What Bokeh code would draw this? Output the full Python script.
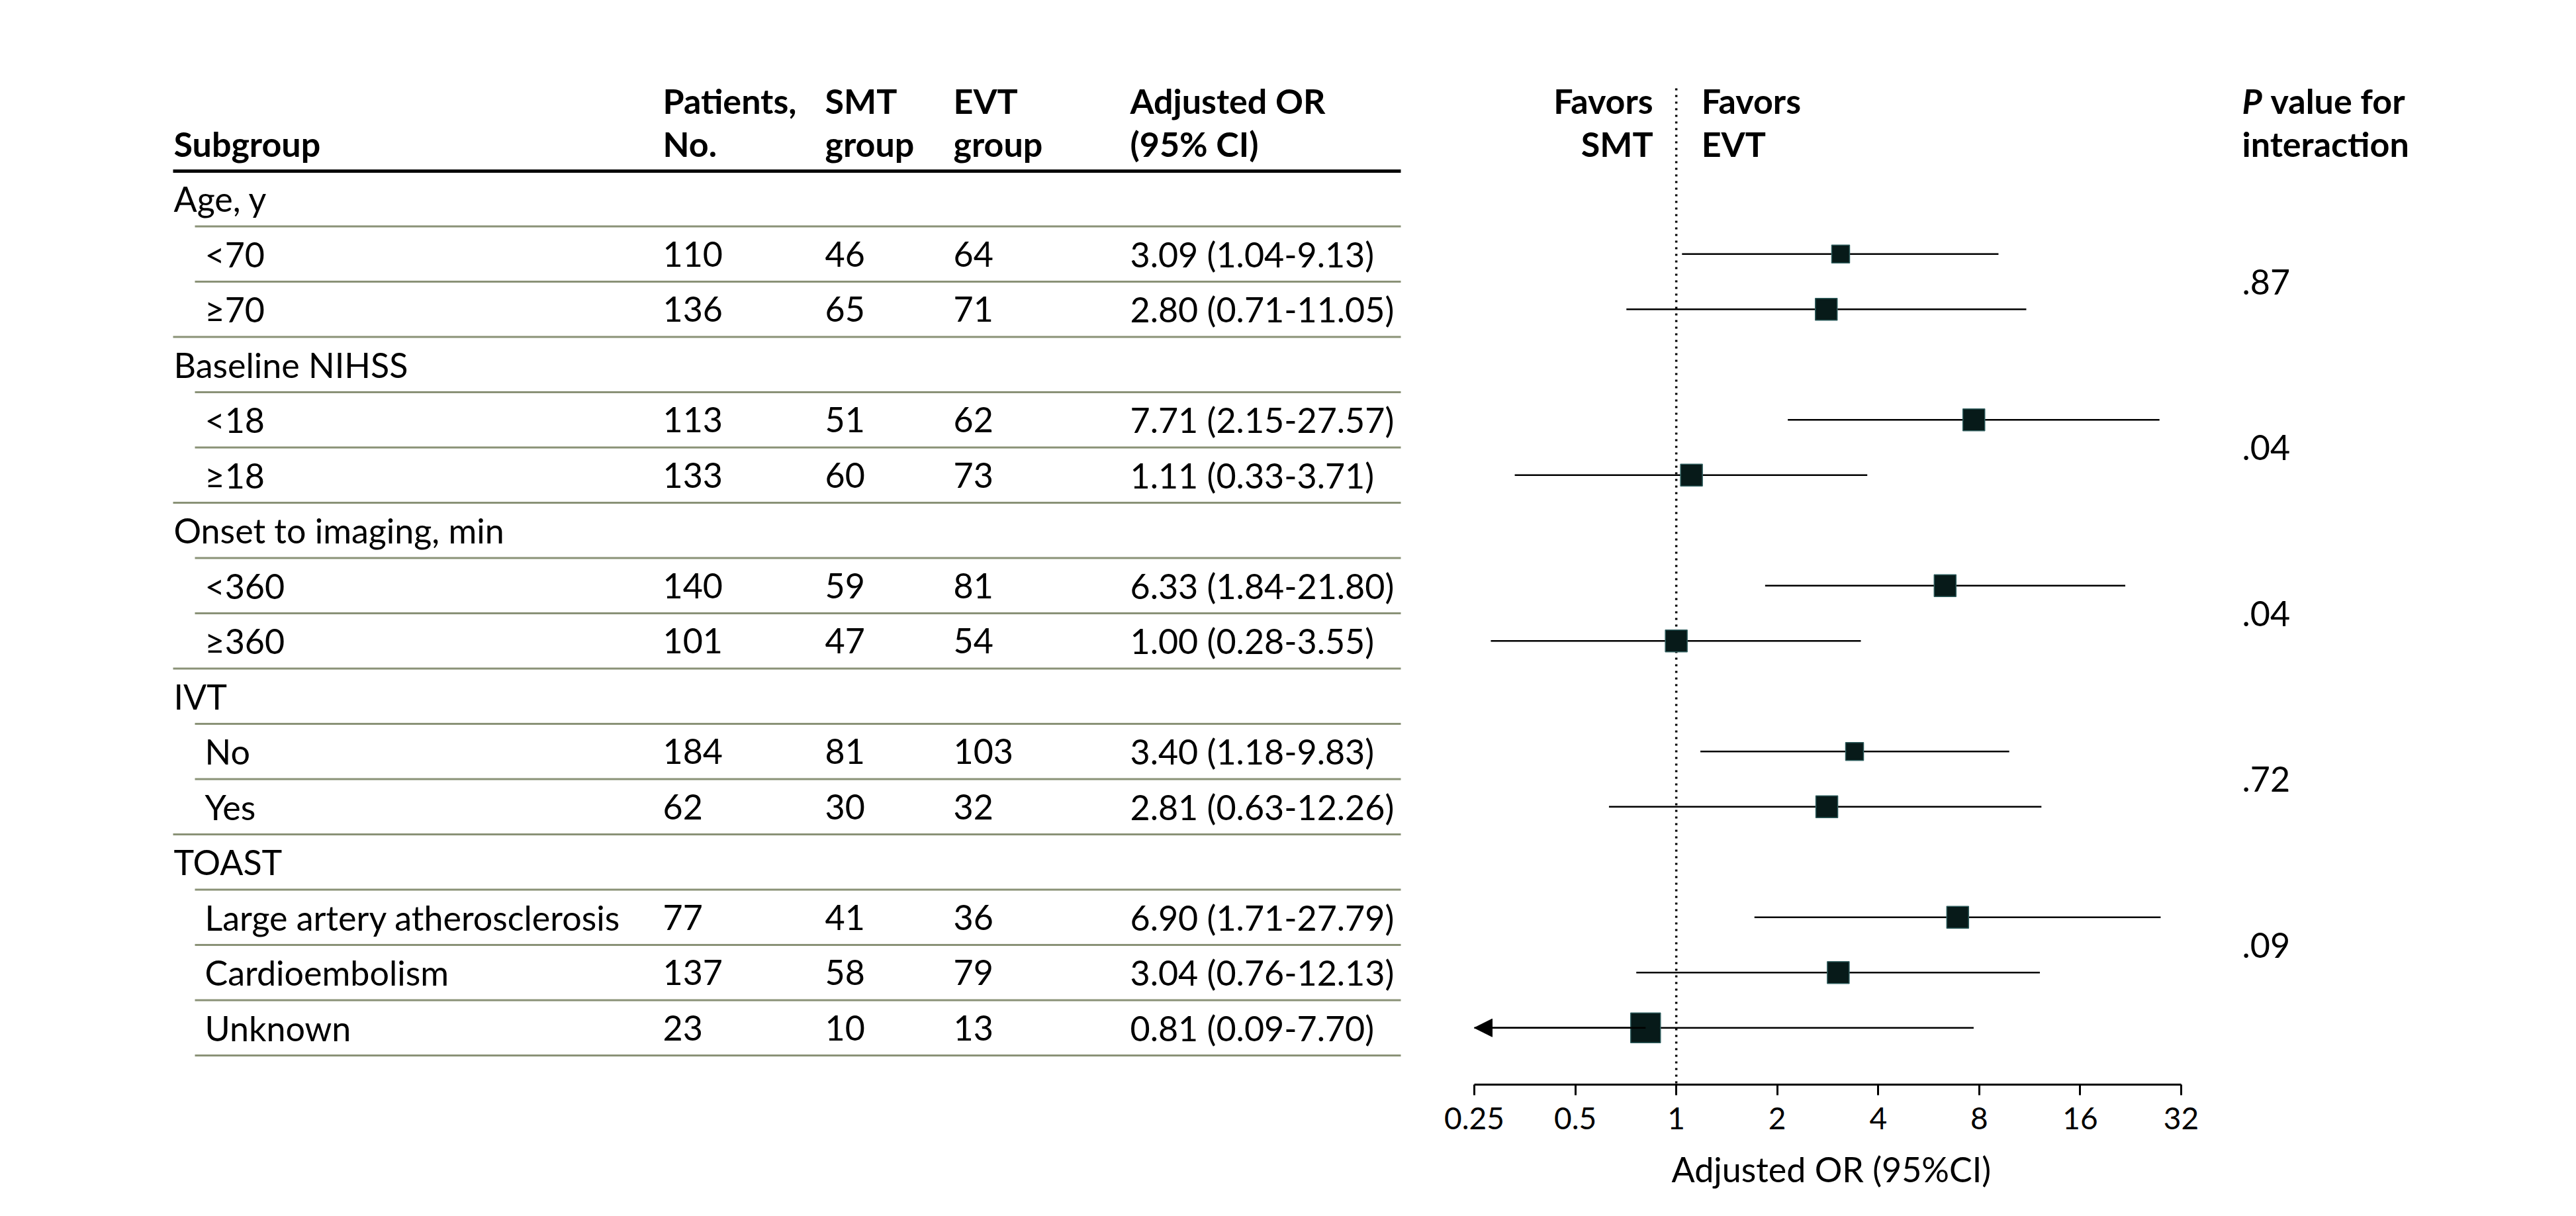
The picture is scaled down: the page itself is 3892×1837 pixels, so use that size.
import math
from bokeh.plotting import figure
from bokeh.models import (Range1d, FixedTicker, CustomJSTickFormatter, Arrow, NormalHead,
                          LogAxis, LogScale, Title)
from bokeh.core.properties import value
from bokeh.embed import file_html
from bokeh.resources import INLINE

# ---------------- data ----------------
group_names = ["Age, y", "Baseline NIHSS", "Onset to imaging, min", "IVT", "TOAST"]
subgroup_labels = ["<70", "≥70", "<18", "≥18", "<360", "≥360", "No", "Yes",
                   "Large artery atherosclerosis", "Cardioembolism", "Unknown"]
subgroup_group = [0, 0, 1, 1, 2, 2, 3, 3, 4, 4, 4]
patients = [110, 136, 113, 133, 140, 101, 184, 62, 77, 137, 23]
smt_group = [46, 65, 51, 60, 59, 47, 81, 30, 41, 58, 10]
evt_group = [64, 71, 62, 73, 81, 54, 103, 32, 36, 79, 13]
or_est = [3.09, 2.80, 7.71, 1.11, 6.33, 1.00, 3.40, 2.81, 6.90, 3.04, 0.81]
ci_low = [1.04, 0.71, 2.15, 0.33, 1.84, 0.28, 1.18, 0.63, 1.71, 0.76, 0.09]
ci_high = [9.13, 11.05, 27.57, 3.71, 21.80, 3.55, 9.83, 12.26, 27.79, 12.13, 7.70]
p_interaction = [".87", ".04", ".04", ".72", ".09"]
tick_values = [0.25, 0.5, 1, 2, 4, 8, 16, 32]
axis_title = "Adjusted OR (95%CI)"

# ---------------- style / layout ----------------
BOX_PX = [27, 33, 33, 33, 33, 33, 27, 33, 33, 33, 45]
FONT = value("Lato")
FS = "52px"
TICK_FS = "46px"
RULE_COLOR = "#8a9277"
BOX_FILL = "#071a19"
BOX_LINE = "#2e5c5c"

TOTAL_W = 3884
ROW_TOP = 258.0      # y of thick header rule (page px)
ROW_H = 83.5
AXIS_Y = 1638        # page px of the x axis line (= frame height)


def row_of(page_y):
    return (page_y - ROW_TOP) / ROW_H - 0.5


HEAD1 = row_of(151)
HEAD2 = row_of(216)
DOT_TOP = row_of(133)
Y_AXIS = row_of(AXIS_Y)

# columns (page px)
X_L1, X_L2 = 262, 309
X_PAT, X_SMT, X_EVT, X_OR = 1001, 1246, 1440, 1707
RULE_L, RULE_IND, RULE_R = 261, 294, 2116
X_P = 3387
X_AXIS_TITLE = 2525

AX_L_PX, AX_R_PX = 2227, 3295
AXIS_MIN, AXIS_MAX = tick_values[0], tick_values[-1]
PX_PER_DBL = (AX_R_PX - AX_L_PX) / math.log2(AXIS_MAX / AXIS_MIN)
OR_START = AXIS_MIN * 2 ** ((0 - AX_L_PX) / PX_PER_DBL)
OR_END = AXIS_MAX * 2 ** ((TOTAL_W - AX_R_PX) / PX_PER_DBL)

# ---------------- row structure ----------------
header_y, sub_y, is_header_seq = [], [], []
r = 0
for g in range(len(group_names)):
    header_y.append(r)
    is_header_seq.append(True)
    r += 1
    for gg in subgroup_group:
        if gg == g:
            sub_y.append(r)
            is_header_seq.append(False)
            r += 1
n_rows = r

p = figure(frame_width=TOTAL_W, frame_height=AXIS_Y,
           x_range=Range1d(0, TOTAL_W),
           y_range=Range1d(Y_AXIS, row_of(0)),
           extra_x_ranges={"or": Range1d(OR_START, OR_END)},
           extra_x_scales={"or": LogScale()},
           output_backend="svg", toolbar_location=None,
           x_axis_location=None, y_axis_location=None,
           min_border=0, min_border_left=0, min_border_right=0, min_border_top=0,
           min_border_bottom=0)
p.grid.visible = False
p.outline_line_color = None
p.background_fill_color = "white"
p.border_fill_color = "white"


def txt(x, y, t, bold=False, align="left", italic=False, size=FS, xoff=0, rng="default"):
    style = "bold" if bold else "normal"
    if italic:
        style = "bold italic" if bold else "italic"
    p.text(x=x, y=y, text=t, text_font=FONT, text_font_size=size,
           text_font_style=style, text_align=align, text_baseline="middle",
           text_color="black", x_offset=xoff, x_range_name=rng)


# ---------------- table ----------------
txt([X_L1], [HEAD2], ["Subgroup"], bold=True)
txt([X_PAT, X_SMT, X_EVT, X_OR], [HEAD1] * 4, ["Patients,", "SMT", "EVT", "Adjusted OR"], bold=True)
txt([X_PAT, X_SMT, X_EVT, X_OR], [HEAD2] * 4, ["No.", "group", "group", "(95% CI)"], bold=True)

p.segment(x0=[RULE_L], x1=[RULE_R], y0=[-0.5], y1=[-0.5], line_width=5, line_color="black")

sx0, sy = [], []
for i in range(n_rows):
    nxt_is_header = (i + 1 < n_rows) and is_header_seq[i + 1]
    sx0.append(RULE_L if nxt_is_header else RULE_IND)
    sy.append(i + 0.5)
p.segment(x0=sx0, x1=[RULE_R] * n_rows, y0=sy, y1=sy, line_width=3, line_color=RULE_COLOR)

txt([X_L1] * len(group_names), header_y, group_names)
n = len(subgroup_labels)
txt([X_L2] * n, sub_y, subgroup_labels)
txt([X_PAT] * n, sub_y, [str(v) for v in patients])
txt([X_SMT] * n, sub_y, [str(v) for v in smt_group])
txt([X_EVT] * n, sub_y, [str(v) for v in evt_group])
or_txt = [f"{o:.2f} ({l:.2f}-{h:.2f})" for o, l, h in zip(or_est, ci_low, ci_high)]
txt([X_OR] * n, sub_y, or_txt)

# ---------------- forest ----------------
ax = LogAxis(x_range_name="or")
ax.ticker = FixedTicker(ticks=tick_values, minor_ticks=[])
ax.formatter = CustomJSTickFormatter(code="return String(tick);")
ax.bounds = (AXIS_MIN, AXIS_MAX)
ax.axis_line_width = 3
ax.axis_line_color = "black"
ax.major_tick_line_width = 3
ax.major_tick_line_color = "black"
ax.major_tick_out = 16
ax.major_tick_in = 0
ax.minor_tick_out = 0
ax.minor_tick_in = 0
ax.major_label_text_font = "Lato"
ax.major_label_text_font_size = TICK_FS
ax.major_label_text_color = "black"
ax.major_label_standoff = 18
p.add_layout(ax, "below")

# axis title, placed under the log axis
p.add_layout(Title(text=axis_title, align="left", offset=X_AXIS_TITLE,
                   text_font="Lato", text_font_size=FS, text_font_style="normal",
                   text_color="black", standoff=49), "below")

p.segment(x0=[1], x1=[1], y0=[DOT_TOP], y1=[Y_AXIS], line_width=3.5,
          line_color="black", line_dash="3 7", x_range_name="or")

txt([1, 1], [HEAD1, HEAD2], ["Favors", "SMT"], bold=True, align="right", xoff=-35, rng="or")
txt([1, 1], [HEAD1, HEAD2], ["Favors", "EVT"], bold=True, align="left", xoff=38, rng="or")

lo_draw = [max(l, AXIS_MIN) for l in ci_low]
p.segment(x0=lo_draw, x1=ci_high, y0=sub_y, y1=sub_y, line_width=2.5, line_color="black",
          x_range_name="or")
for o, l, yy in zip(or_est, ci_low, sub_y):
    if l < AXIS_MIN:
        p.add_layout(Arrow(end=NormalHead(size=27, fill_color="black", line_color="black",
                                          line_width=1),
                           x_start=o, y_start=yy, x_end=AXIS_MIN, y_end=yy,
                           line_width=2.5, line_color="black", x_range_name="or"))
p.scatter(x=or_est, y=sub_y, size=BOX_PX, marker="square", fill_color=BOX_FILL,
          line_color=BOX_LINE, line_width=1.5, x_range_name="or")

# ---------------- P values ----------------
txt([X_P], [HEAD1], ["P"], bold=True, italic=True)
txt([X_P + 43], [HEAD1], ["value for"], bold=True)
txt([X_P], [HEAD2], ["interaction"], bold=True)
first_sub = [header_y[g] + 1.5 for g in range(len(group_names))]
txt([X_P] * len(p_interaction), first_sub, p_interaction)

open("out.html", "w").write(file_html(p, INLINE))
